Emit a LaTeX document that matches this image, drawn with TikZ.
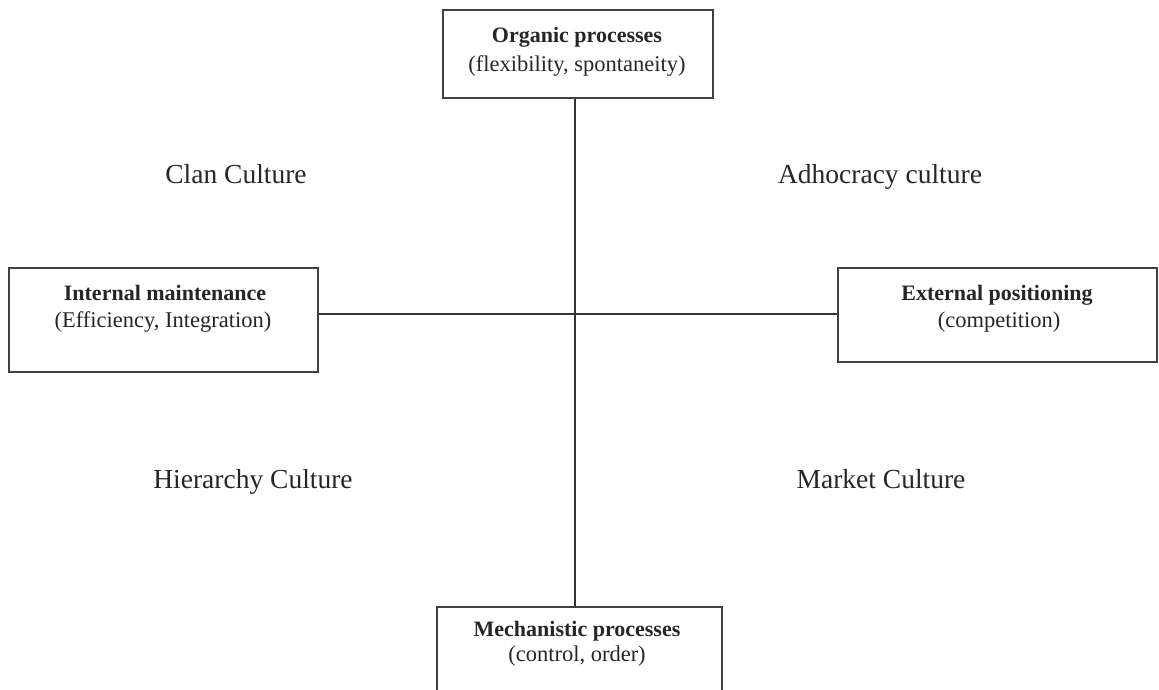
\documentclass[tikz,border=0pt]{standalone}
\usepackage{fontspec}
\setmainfont{Liberation Serif}
\begin{document}
\begin{tikzpicture}[x=1pt,y=-1pt,
  boxst/.style={draw=black!75,line width=1.6pt,fill=white,inner sep=0pt},
  ttl/.style={anchor=base,inner sep=0pt,text=black!85,font=\fontsize{22}{26}\selectfont\bfseries},
  sub/.style={anchor=base,inner sep=0pt,text=black!85,font=\fontsize{22.5}{26}\selectfont},
  cult/.style={anchor=base,inner sep=0pt,text=black!85,font=\fontsize{27.5}{32}\selectfont},
  axis/.style={draw=black!80,line width=1.4pt}]
\useasboundingbox (0,0) rectangle (1159,689);
% boxes
\node[boxst,minimum width=270pt,minimum height=88pt] (top) at (578,54) {};
\node[boxst,minimum width=309pt,minimum height=104pt] (left) at (163.5,320) {};
\node[boxst,minimum width=319pt,minimum height=94pt] (right) at (997.5,315) {};
\node[boxst,minimum width=285pt,minimum height=90pt] (bot) at (579.5,652) {};
% axes
\draw[axis] (575,0 |- top.south) -- (575,0 |- bot.north);
\draw[axis] (left.east |- 0,314) -- (right.west |- 0,314);
% box texts
\node[ttl] (topt) at (577,42) {Organic processes};
\node[sub] (tops) at (577,71) {(flexibility, spontaneity)};
\node[ttl] (leftt) at (165,300) {Internal maintenance};
\node[sub] (lefts) at (163,327) {(Efficiency, Integration)};
\node[ttl] (rightt) at (997,300) {External positioning};
\node[sub] (rights) at (999,327) {(competition)};
\node[ttl] (bott) at (577,636) {Mechanistic processes};
\node[sub] (bots) at (577,661) {(control, order)};
% culture labels
\node[cult] (clan) at (236,183) {Clan Culture};
\node[cult] (adho) at (880,183) {Adhocracy culture};
\node[cult] (hier) at (253,488) {Hierarchy Culture};
\node[cult] (mark) at (881,488) {Market Culture};
\end{tikzpicture}
\end{document}
